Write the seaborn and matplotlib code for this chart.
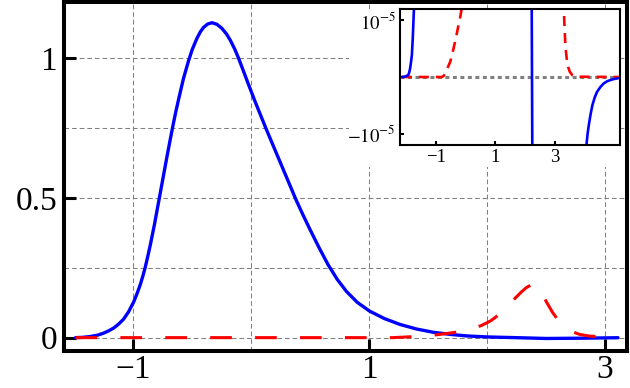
import matplotlib
matplotlib.use("Agg")
import matplotlib.pyplot as plt
from matplotlib.patches import Rectangle
from matplotlib.ticker import FixedLocator, FixedFormatter
import seaborn as sns

# main panel: blue (solid) and red (dashed) curves
blue_x = [-1.49, -1.43, -1.364, -1.30, -1.252, -1.21, -1.167, -1.125, -1.082,
          -1.04, -0.997, -0.97, -0.94, -0.92, -0.898, -0.877, -0.856, -0.82,
          -0.785, -0.75, -0.715, -0.688, -0.66, -0.64, -0.616, -0.575, -0.531,
          -0.50, -0.46, -0.43, -0.404, -0.37, -0.333, -0.29, -0.249, -0.21,
          -0.178, -0.14, -0.108, -0.07, -0.037, 0.0, 0.034, 0.08, 0.128, 0.19,
          0.255, 0.32, 0.382, 0.44, 0.497, 0.575, 0.653, 0.73, 0.808, 0.9,
          1.003, 1.13, 1.263, 1.4, 1.545, 1.69, 1.83, 2.0, 2.24, 2.5, 2.8, 3.11]
blue_y = [0.0, 0.001, 0.004, 0.009, 0.016, 0.024, 0.034, 0.048, 0.066,
          0.092, 0.127, 0.155, 0.19, 0.218, 0.252, 0.29, 0.33, 0.405,
          0.485, 0.565, 0.645, 0.705, 0.765, 0.806, 0.851, 0.925, 0.99,
          1.03, 1.07, 1.094, 1.109, 1.121, 1.126, 1.120, 1.106, 1.086,
          1.064, 1.032, 1.0, 0.958, 0.921, 0.880, 0.843, 0.795, 0.745, 0.683,
          0.618, 0.553, 0.491, 0.438, 0.388, 0.322, 0.260, 0.208, 0.165, 0.126,
          0.095, 0.068, 0.047, 0.031, 0.019, 0.0115, 0.006, 0.0025, 0.0, -0.003,
          -0.002, -0.0003]

red_x = [-1.49, 1.2, 1.3, 1.4, 1.57, 1.75, 1.85, 1.95, 2.03, 2.1, 2.17, 2.24,
         2.29, 2.33, 2.37, 2.40, 2.43, 2.46, 2.5, 2.555, 2.61, 2.66, 2.72,
         2.78, 2.86, 2.96]
red_y = [0.0, 0.0, 0.002, 0.004, 0.01, 0.02, 0.029, 0.043, 0.06, 0.082, 0.11,
         0.142, 0.163, 0.178, 0.188, 0.19, 0.183, 0.163, 0.13, 0.09, 0.058,
         0.038, 0.022, 0.012, 0.006, 0.003]

# inset: same curves near zero, values in units of 1e-5
in_blue_x = [-2.14, -2.05, -1.97, -1.92, -1.89, -1.86, -1.83, -1.8, -1.77,
             -1.75, -1.73, -1.6, 2.2, 2.28, 4.0, 4.07, 4.11, 4.15, 4.21, 4.27,
             4.35, 4.43, 4.55, 4.66, 4.77, 4.88, 5.0, 5.13]
in_blue_y = [0.0, 0.005, 0.02, 0.036, 0.08, 0.15, 0.26, 0.39, 0.69,
             0.95, 1.22, 5.0, 5.0, -5.0, -5.0, -1.21, -1.0, -0.85, -0.66, -0.5,
             -0.36, -0.26, -0.17, -0.11, -0.075, -0.053, -0.035, -0.023]

in_red_x = [-2.14, -0.79, -0.73, -0.68, -0.6, -0.51, -0.44, -0.37, -0.3, -0.23,
            -0.17, -0.12, 0.0, 3.2, 3.31, 3.33, 3.35, 3.37, 3.4, 3.42, 3.46,
            3.51, 3.6, 3.7, 5.16]
in_red_y = [0.0, 0.0, 0.02, 0.066, 0.16, 0.27, 0.41, 0.57, 0.74, 0.92,
            1.07, 1.22, 5.0, 5.0, 1.22, 0.92, 0.7, 0.51, 0.36, 0.27, 0.17,
            0.094, 0.03, 0.005, 0.0]

zero_x = [-2.2, 5.2]
zero_y = [0.0, 0.0]

main_xticks = [-1, 1, 3]
main_xlabels = ["\u22121", "1", "3"]
main_yticks = [0, 0.5, 1]
main_ylabels = ["0", "0.5", "1"]
grid_x = [0, 2]
grid_y = [0.25, 0.75]

inset_xticks = [-1, 1, 3]
inset_xlabels = ["\u22121", "1", "3"]
inset_yticks = [-1, 1]
inset_ylabels = [r"$-10^{-5}$", r"$10^{-5}$"]

sns.set_theme(style="ticks")
plt.rcParams["font.family"] = ["Liberation Serif", "DejaVu Serif"]
plt.rcParams["mathtext.fontset"] = "stix"
plt.rcParams["axes.unicode_minus"] = True

fig = plt.figure(figsize=(6.3, 3.88), dpi=100)
fig.patch.set_facecolor("white")

ax = fig.add_axes([64 / 630, 37.5 / 388, 563 / 630, 348.5 / 388])
ax.set_facecolor("white")

sns.lineplot(x=blue_x, y=blue_y, ax=ax, color="#0000ff", linewidth=2.4,
             sort=False, estimator=None, legend=False)
sns.lineplot(x=red_x, y=red_y, ax=ax, color="#ff0000", linewidth=2.2,
             linestyle=(0, (7.1, 7.6)), sort=False, estimator=None, legend=False)

ax.set_xlim(-1.587, 3.186)
ax.set_ylim(-0.046, 1.2)
ax.xaxis.set_major_locator(FixedLocator(main_xticks))
ax.xaxis.set_major_formatter(FixedFormatter(main_xlabels))
ax.xaxis.set_minor_locator(FixedLocator(grid_x))
ax.yaxis.set_major_locator(FixedLocator(main_yticks))
ax.yaxis.set_major_formatter(FixedFormatter(main_ylabels))
ax.yaxis.set_minor_locator(FixedLocator(grid_y))

ax.set_axisbelow(True)
ax.grid(True, which="both", color="#808080", linewidth=0.75,
        linestyle=(0, (4.5, 2.8)))
ax.tick_params(which="major", direction="in", length=8.5, width=2.2,
               labelsize=24, pad=5, color="black", labelcolor="black")
ax.tick_params(axis="x", which="major", pad=3)
ax.tick_params(which="minor", length=0)
for sp in ax.spines.values():
    sp.set_linewidth(2.9)
    sp.set_color("black")
ax.set_xlabel("")
ax.set_ylabel("")

# white backing behind the inset and its tick labels
fig.add_artist(Rectangle((349 / 630, 221 / 388), 271 / 630, 158 / 388,
                         transform=fig.transFigure, facecolor="white",
                         edgecolor="none", zorder=0.5))

ins = fig.add_axes([400 / 630, 243 / 388, 220 / 630, 136 / 388])
ins.set_zorder(1)
ins.set_facecolor("white")
sns.lineplot(x=zero_x, y=zero_y, ax=ins, color="#808080", linewidth=2.2,
             linestyle=(0, (1.3, 1.15)), sort=False, estimator=None, legend=False)
sns.lineplot(x=in_red_x, y=in_red_y, ax=ins, color="#ff0000", linewidth=1.9,
             linestyle=(0, (3.8, 2.65)), sort=False, estimator=None, legend=False)
sns.lineplot(x=in_blue_x, y=in_blue_y, ax=ins, color="#0000ff", linewidth=1.9,
             sort=False, estimator=None, legend=False)
ins.set_xlim(-2.2, 5.2)
ins.set_ylim(-1.2, 1.2)
ins.xaxis.set_major_locator(FixedLocator(inset_xticks))
ins.xaxis.set_major_formatter(FixedFormatter(inset_xlabels))
ins.yaxis.set_major_locator(FixedLocator(inset_yticks))
ins.yaxis.set_major_formatter(FixedFormatter(inset_ylabels))
ins.tick_params(direction="in", length=3, width=1.5, labelsize=13.5, pad=3,
                color="black", labelcolor="black")
for sp in ins.spines.values():
    sp.set_linewidth(1.5)
    sp.set_color("black")
ins.set_xlabel("")
ins.set_ylabel("")

fig.savefig("out.png", dpi=100)
plt.close(fig)
